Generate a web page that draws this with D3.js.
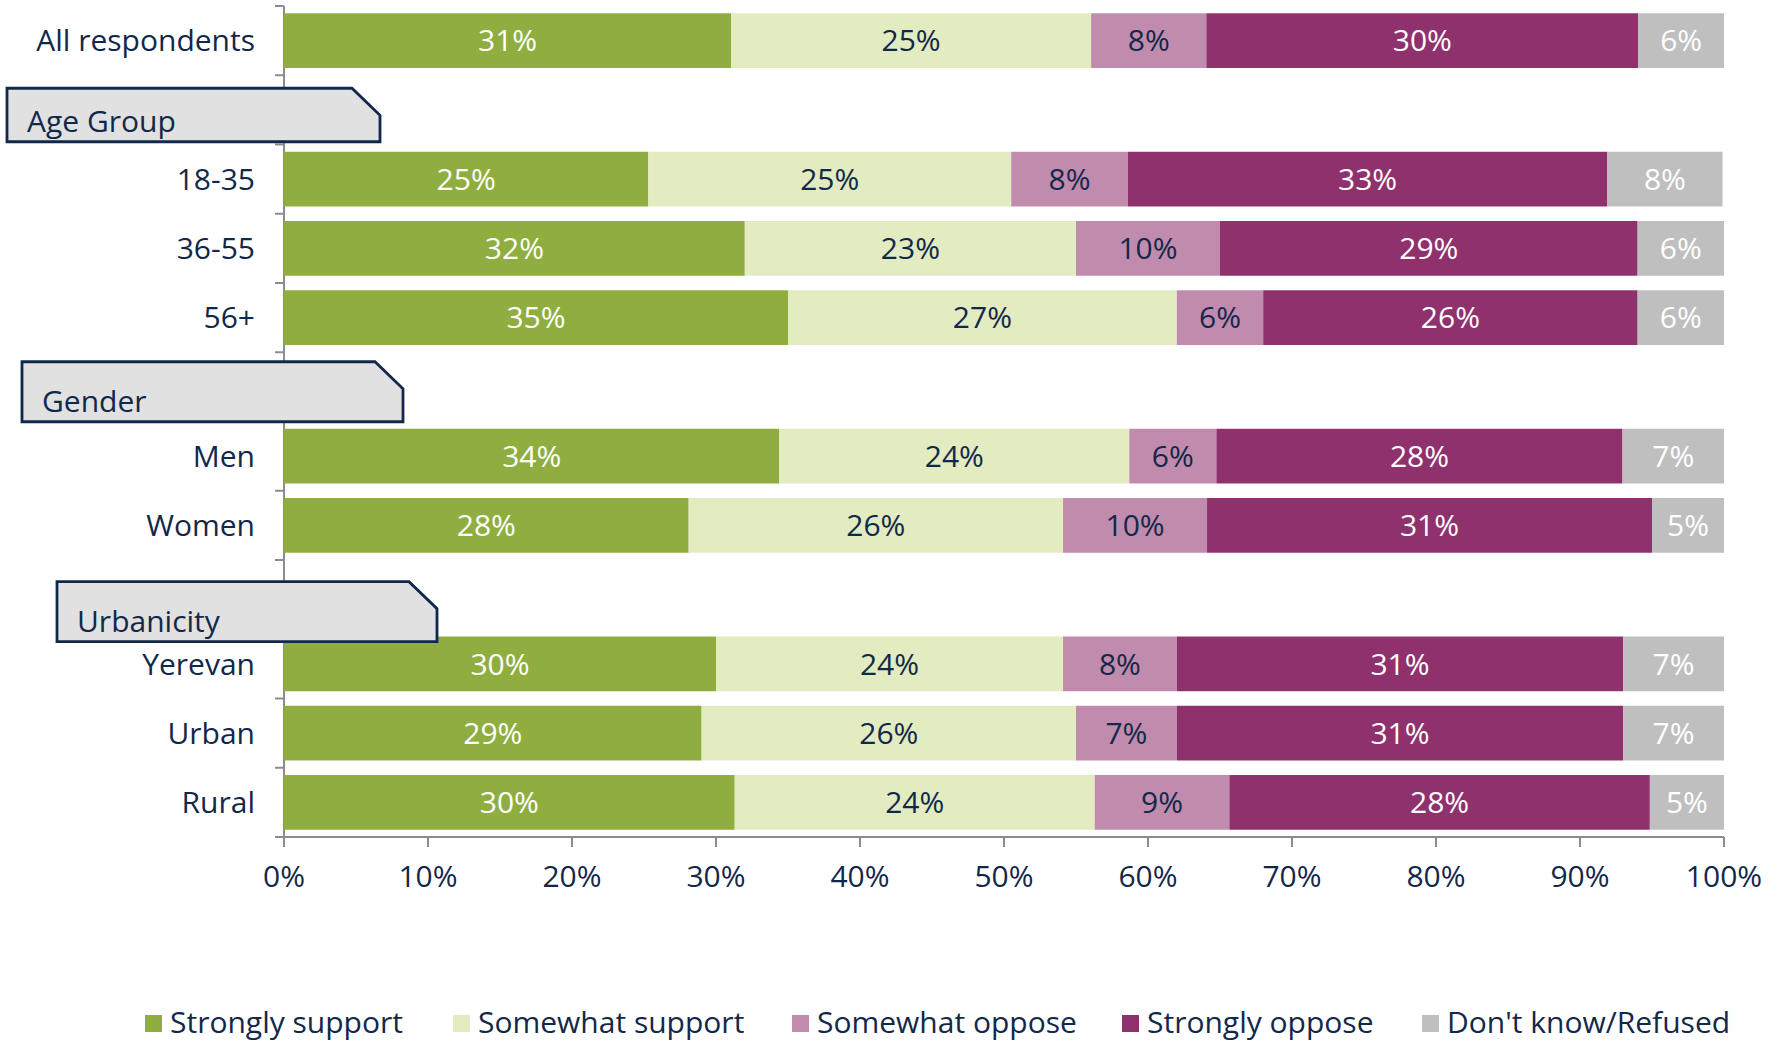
<!DOCTYPE html>
<html>
<head>
<meta charset="utf-8">
<script src="https://cdn.jsdelivr.net/npm/d3@7"></script>
<style>
  html, body { margin: 0; padding: 0; background: #ffffff; }
  svg { display: block; }
  text { font-family: "Open Sans", sans-serif; }
</style>
</head>
<body>
<svg id="chart" width="1777" height="1044"></svg>
<script>
// ---------- DATA ----------
const categories = ["All respondents", "Age Group", "18-35", "36-55", "56+", "Gender", "Men", "Women", "Urbanicity", "Yerevan", "Urban", "Rural"];
const headerRows = ["Age Group", "Gender", "Urbanicity"];
const dataRows = ["All respondents", "18-35", "36-55", "56+", "Men", "Women", "Yerevan", "Urban", "Rural"];

const seriesNames = ["Strongly support", "Somewhat support", "Somewhat oppose", "Strongly oppose", "Don't know/Refused"];

// segment sizes
const stronglySupport = [31.05, 25.3, 32.0, 35.0, 34.4, 28.1, 30.0, 29.0, 31.3];
const somewhatSupport = [25.0, 25.2, 23.0, 27.0, 24.3, 26.0, 24.1, 26.0, 25.0];
const somewhatOppose  = [8.0, 8.1, 10.0, 6.0, 6.05, 10.0, 7.9, 7.0, 9.35];
const stronglyOppose  = [30.0, 33.3, 29.0, 26.0, 28.2, 30.9, 31.0, 31.0, 29.2];
const dontKnow        = [6.0, 8.0, 6.0, 6.0, 7.1, 5.0, 7.0, 7.0, 5.2];

// printed labels
const labelsStronglySupport = [31, 25, 32, 35, 34, 28, 30, 29, 30];
const labelsSomewhatSupport = [25, 25, 23, 27, 24, 26, 24, 26, 24];
const labelsSomewhatOppose  = [8, 8, 10, 6, 6, 10, 8, 7, 9];
const labelsStronglyOppose  = [30, 33, 29, 26, 28, 31, 31, 31, 28];
const labelsDontKnow        = [6, 8, 6, 6, 7, 5, 7, 7, 5];

const xTicks = [0, 10, 20, 30, 40, 50, 60, 70, 80, 90, 100];

// ---------- STYLE ----------
const colors = ["#8fae3f", "#e3ebc0", "#c18bae", "#8e316d", "#bfbfbf"];
const labelColors = ["#ffffff", "#12284a", "#12284a", "#ffffff", "#ffffff"];
const navy = "#12284a";
const axisGray = "#8c8c8c";
const fontSize = 30;

// header box layout (offset from the top of its row slot)
const headerLayout = {
  "Age Group":  { left: 7,  right: 380, dy: 13,   h: 53.5 },
  "Gender":     { left: 22, right: 403, dy: 9.5,  h: 60 },
  "Urbanicity": { left: 57, right: 437, dy: 21.7, h: 60 }
};

// ---------- BUILD ----------
const svg = d3.select("#chart");
const keys = seriesNames;
const valueArrays = [stronglySupport, somewhatSupport, somewhatOppose, stronglyOppose, dontKnow];
const labelArrays = [labelsStronglySupport, labelsSomewhatSupport, labelsSomewhatOppose, labelsStronglyOppose, labelsDontKnow];

const table = dataRows.map((name, i) => {
  const o = { name };
  keys.forEach((k, j) => { o[k] = valueArrays[j][i]; });
  return o;
});

const x = d3.scaleLinear().domain([0, 100]).range([284, 1724]);
const y = d3.scaleBand().domain(categories).range([6, 837]).paddingInner(0.21).paddingOuter(0.105);
const step = y.step();
const slotTop = c => y(c) - y.paddingOuter() * step;

const stack = d3.stack().keys(keys);
const series = stack(table);

// y axis line + ticks at slot boundaries
const gAxis = svg.append("g");
gAxis.append("line")
  .attr("x1", x(0)).attr("x2", x(0))
  .attr("y1", 6).attr("y2", 837)
  .attr("stroke", axisGray).attr("stroke-width", 2);
const boundaries = d3.range(categories.length + 1).map(i => 6 + i * step);
gAxis.selectAll(".ytick").data(boundaries).join("line")
  .attr("x1", x(0) - 9).attr("x2", x(0))
  .attr("y1", d => d).attr("y2", d => d)
  .attr("stroke", axisGray).attr("stroke-width", 2);

// bars
const gBars = svg.append("g");
series.forEach((s, j) => {
  const g = gBars.append("g").attr("fill", colors[j]);
  g.selectAll("rect").data(s).join("rect")
    .attr("x", d => x(d[0]))
    .attr("width", d => x(Math.min(d[1], 100)) - x(d[0]))
    .attr("y", d => y(d.data.name))
    .attr("height", y.bandwidth());
  g.selectAll("text").data(s).join("text")
    .attr("x", d => (x(d[0]) + x(Math.min(d[1], 100))) / 2)
    .attr("y", d => y(d.data.name) + y.bandwidth() / 2)
    .attr("dy", "0.36em")
    .attr("text-anchor", "middle")
    .attr("font-size", fontSize)
    .attr("fill", labelColors[j])
    .text((d, i) => labelArrays[j][i] + "%");
});

// x axis
const gx = svg.append("g").attr("transform", "translate(0,837)");
gx.append("line")
  .attr("x1", x(0) - 9).attr("x2", x(100))
  .attr("stroke", axisGray).attr("stroke-width", 2);
gx.selectAll(".xt").data(xTicks).join("line")
  .attr("x1", d => x(d)).attr("x2", d => x(d))
  .attr("y1", 0).attr("y2", 10)
  .attr("stroke", axisGray).attr("stroke-width", 2);
gx.selectAll("text").data(xTicks).join("text")
  .attr("x", d => x(d)).attr("y", 50)
  .attr("text-anchor", "middle")
  .attr("font-size", fontSize)
  .attr("fill", navy)
  .text(d => d + "%");

// category labels
svg.append("g").selectAll("text").data(dataRows).join("text")
  .attr("x", 255)
  .attr("y", d => y(d) + y.bandwidth() / 2)
  .attr("dy", "0.36em")
  .attr("text-anchor", "end")
  .attr("font-size", fontSize)
  .attr("fill", navy)
  .text(d => d);

// header boxes
const gHead = svg.append("g");
headerRows.forEach(h => {
  const L = headerLayout[h];
  const top = slotTop(h) + L.dy, bot = top + L.h;
  const cutX = 28, cutY = 27;
  const path = d3.path();
  path.moveTo(L.left, top);
  path.lineTo(L.right - cutX, top);
  path.lineTo(L.right, top + cutY);
  path.lineTo(L.right, bot);
  path.lineTo(L.left, bot);
  path.closePath();
  gHead.append("path").attr("d", path.toString())
    .attr("fill", "#e1e1e1").attr("stroke", navy).attr("stroke-width", 2.8);
  gHead.append("text")
    .attr("x", L.left + 20).attr("y", bot - 9.5)
    .attr("font-size", fontSize).attr("fill", navy)
    .text(h);
});

// legend
const legendX = [145, 453, 792, 1122, 1422];
const gLeg = svg.append("g");
seriesNames.forEach((n, j) => {
  gLeg.append("rect").attr("x", legendX[j]).attr("y", 1015).attr("width", 17).attr("height", 17).attr("fill", colors[j]);
  gLeg.append("text").attr("x", legendX[j] + 25).attr("y", 1033)
    .attr("font-size", fontSize).attr("fill", navy).text(n);
});
</script>
</body>
</html>
